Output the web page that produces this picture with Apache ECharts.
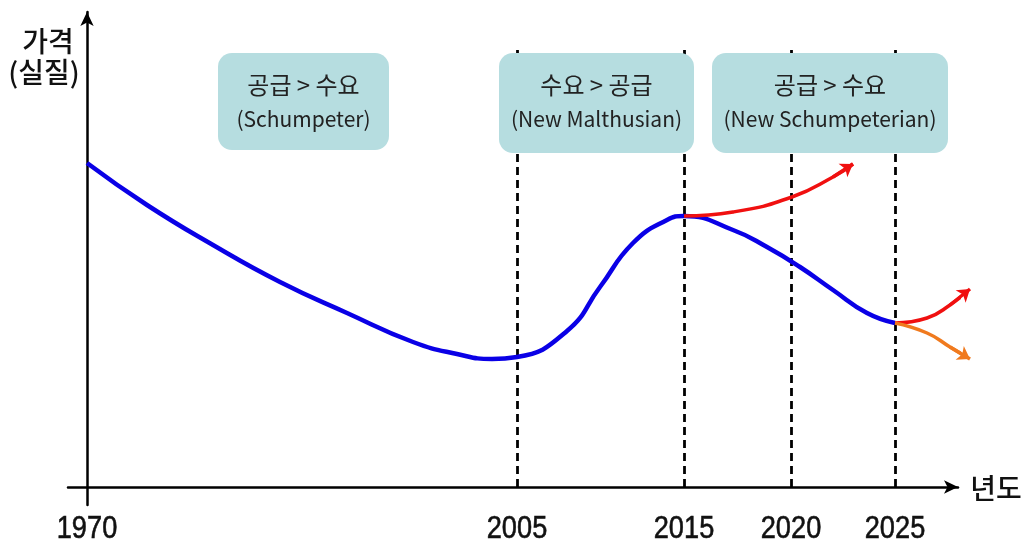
<!DOCTYPE html>
<html>
<head>
<meta charset="utf-8">
<script src="https://cdn.jsdelivr.net/npm/echarts@6/dist/echarts.min.js"></script>
<style>
  html, body { margin: 0; padding: 0; background: #fff; }
  #chart { width: 1026px; height: 539px; }
</style>
</head>
<body>
<div id="chart"></div>
<script>
// Horizontal position of each marked year on the time scale (1970 = 0)
const yearLabels = ['1970', '2005', '2015', '2020', '2025'];
const yearPos = [0, 430, 597, 704, 808];

// Real price path 1970 -> 2025  [time position, price level]
const pricePath = [
  [0, 324], [60, 282], [126, 242], [193, 205], [260, 174], [326, 145],
  [370, 133], [405, 128], [430, 130], [480, 156], [513, 200],
  [546, 244], [580, 267], [597, 271], [646, 257], [680, 240],
  [713, 220], [746, 197], [780, 174], [808, 164]
];
// Alternative path from 2015: prices keep rising
const rise2015 = [[597, 271], [646, 275], [705, 290], [746, 310], [766, 323]];
// Scenarios after 2025
const rise2025 = [[808, 164], [840, 169], [863, 182], [883, 198]];
const fall2025 = [[808, 164], [840, 154], [863, 140], [883, 128]];

// Regime boxes
const regimes = [
  { title: '공급 > 수요', sub: '(Schumpeter)' },
  { title: '수요 > 공급', sub: '(New Malthusian)' },
  { title: '공급 > 수요', sub: '(New Schumpeterian)' }
];

const dashTop = 442;
const BLUE = '#0a00e6', RED = '#f01010', ORANGE = '#f07a1e';
const KR = '"Noto Sans CJK KR", "Noto Sans", sans-serif';

function arrowHead(path, color) {
  const n = path.length;
  return {
    type: 'lines', coordinateSystem: 'cartesian2d', z: 4, clip: false, silent: true,
    symbol: ['none', 'arrow'], symbolSize: 12,
    lineStyle: { color: color, width: 3.5, opacity: 1 },
    data: [{ coords: [path[n - 2], path[n - 1]] }]
  };
}

function curve(path, color, width) {
  return {
    type: 'line', data: path, smooth: 0.5, showSymbol: false, z: 3,
    clip: false, lineStyle: { color: color, width: width }, silent: true
  };
}

const chart = echarts.init(document.getElementById('chart'), null, { renderer: 'canvas' });

const boxRects = [
  { x: 218, y: 53, w: 171, h: 97 },
  { x: 499, y: 53, w: 195, h: 100 },
  { x: 712, y: 53, w: 236, h: 100 }
];

const graphics = [];
regimes.forEach((r, i) => {
  const b = boxRects[i];
  graphics.push({
    type: 'rect', z: 20,
    shape: { x: b.x, y: b.y, width: b.w, height: b.h, r: 14 },
    style: { fill: '#b6dde0' }
  });
  graphics.push({
    type: 'text', z: 21, x: b.x + b.w / 2, y: b.y + 32,
    style: { text: r.title, font: '24px ' + KR, fill: '#222', align: 'center', verticalAlign: 'middle' }
  });
  graphics.push({
    type: 'text', z: 21, x: b.x + b.w / 2, y: b.y + 66,
    style: { text: r.sub, font: '21px ' + KR, fill: '#222', align: 'center', verticalAlign: 'middle' }
  });
});
graphics.push(
  { type: 'text', z: 21, x: 48, y: 41,
    style: { text: '가격', font: '500 28px ' + KR, fill: '#111', align: 'center', verticalAlign: 'middle' } },
  { type: 'text', z: 21, x: 44, y: 72,
    style: { text: '(실질)', font: '500 28px ' + KR, fill: '#111', align: 'center', verticalAlign: 'middle' } },
  { type: 'text', z: 21, x: 996, y: 488,
    style: { text: '년도', font: '500 28px ' + KR, fill: '#111', align: 'center', verticalAlign: 'middle' } }
);

chart.setOption({
  animation: false,
  backgroundColor: '#fff',
  grid: { left: 68, right: 68, top: 12, bottom: 34, containLabel: false, outerBoundsMode: 'none' },
  xAxis: {
    type: 'value', min: -19, max: 871,
    axisLine: { onZero: true, symbol: ['none', 'arrow'], symbolSize: [10, 14],
      lineStyle: { color: '#000', width: 2.5 } },
    axisTick: { show: false },
    splitLine: { show: false },
    axisLabel: { show: false }
  },
  yAxis: {
    type: 'value', min: -18, max: 475,
    axisLine: { show: true, onZero: true, symbol: ['none', 'arrow'], symbolSize: [10, 14],
      lineStyle: { color: '#000', width: 2.5 } },
    axisTick: { show: false }, axisLabel: { show: false }, splitLine: { show: false }
  },
  graphic: graphics,
  series: [
    {
      type: 'lines', coordinateSystem: 'cartesian2d', z: 2, silent: true,
      lineStyle: { color: '#000', width: 2.8, type: [8, 5], opacity: 1 },
      data: yearPos.slice(1).map(x => ({ coords: [[x, 0], [x, dashTop]] }))
    },
    curve(pricePath, BLUE, 4.5),
    curve(rise2015, RED, 3.5),
    arrowHead(rise2015, RED),
    curve(rise2025, RED, 3.5),
    arrowHead(rise2025, RED),
    curve(fall2025, ORANGE, 3.5),
    arrowHead(fall2025, ORANGE)
  ]
});

// Year labels under the time axis, placed through the axis scale (narrow face)
const axisY = chart.convertToPixel({ yAxisIndex: 0 }, 0);
const yearTexts = yearLabels.map((label, i) => ({
  type: 'text', z: 21,
  x: chart.convertToPixel({ xAxisIndex: 0 }, yearPos[i]),
  y: axisY + 42,
  scaleX: 0.85,
  style: { text: label, font: '32px "Liberation Sans", Arial, sans-serif', fill: '#111',
    stroke: '#111', lineWidth: 0.6, align: 'center', verticalAlign: 'middle' }
}));
chart.setOption({ graphic: graphics.concat(yearTexts) });
</script>
</body>
</html>
